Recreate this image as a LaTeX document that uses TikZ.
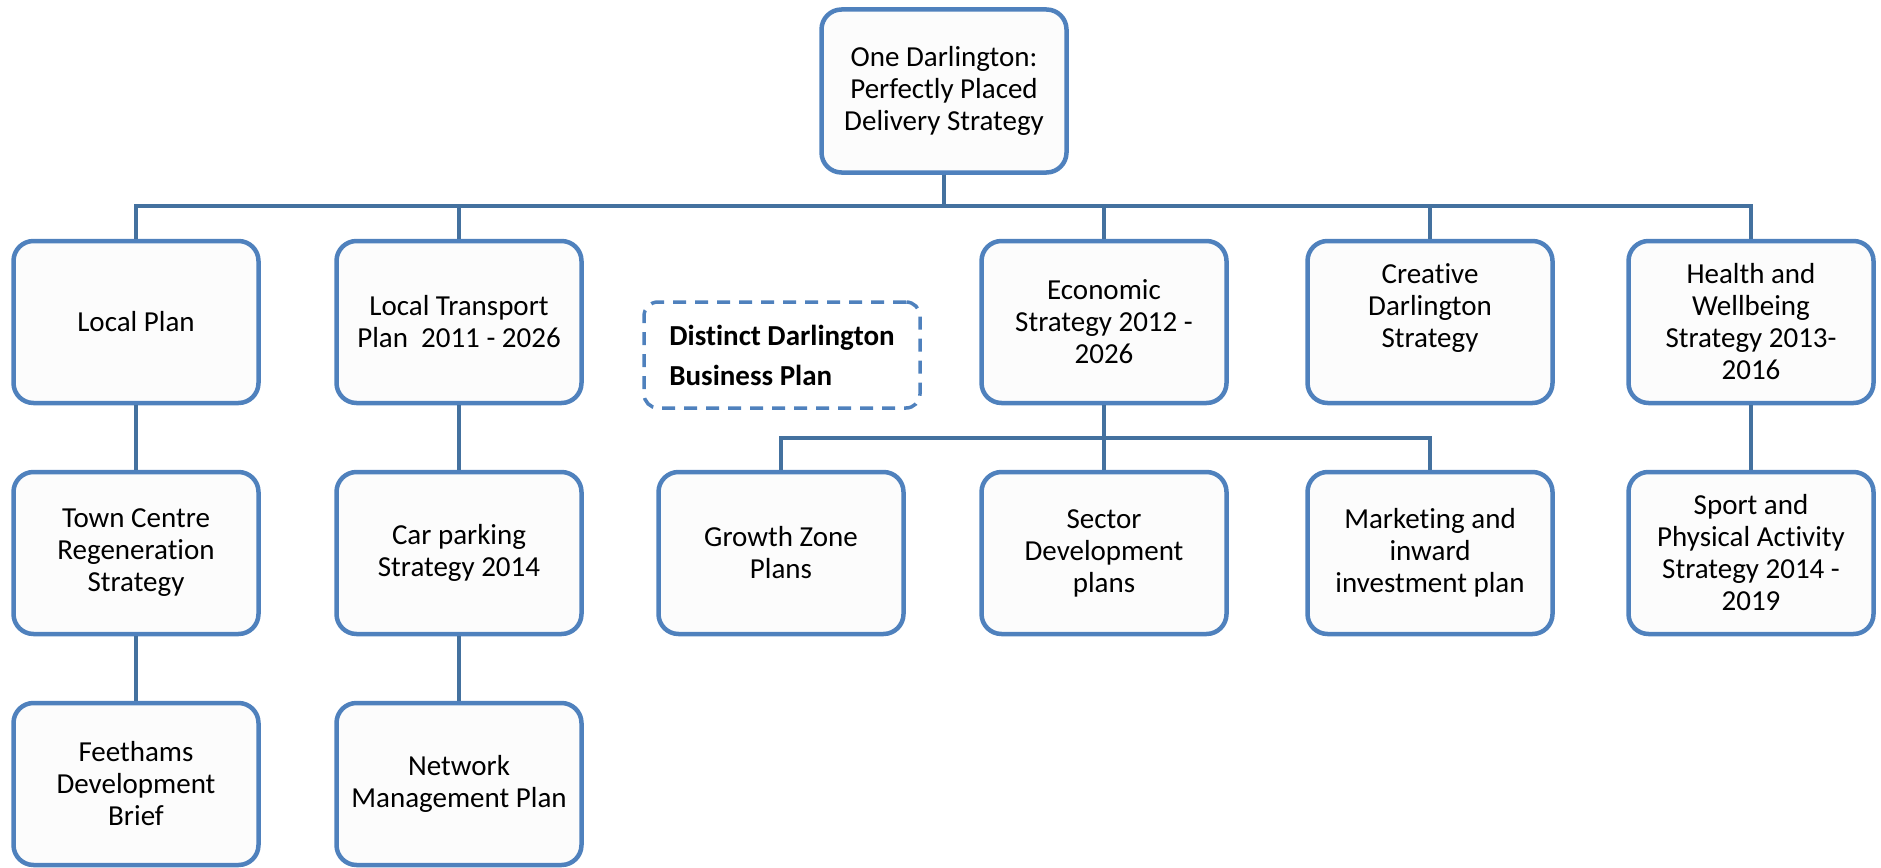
\documentclass[tikz,border=0pt]{standalone}
\usepackage{fontspec}
\setmainfont{Carlito}[Ligatures=NoCommon]
\begin{document}
\begin{tikzpicture}[x=1pt,y=-1pt,
  box/.style={draw=boxblue, line width=4.5pt, fill=boxfill, rounded corners=20pt,
    minimum width=245pt, minimum height=162pt, align=center, inner sep=4pt,
    font=\fontsize{29}{32}\selectfont},
  dashbox/.style={draw=boxblue, line width=3.5pt, dash pattern=on 13pt off 9pt,
    rounded corners=14pt, minimum width=276pt, minimum height=106pt, align=left,
    font=\bfseries\fontsize{29}{40}\selectfont},
  conn/.style={draw=linkblue, line width=4pt}]
\definecolor{boxblue}{HTML}{4F81BD}
\definecolor{linkblue}{HTML}{44719F}
\definecolor{boxfill}{HTML}{FCFCFC}
\useasboundingbox (0,0) rectangle (1881,867);

% top of the hierarchy
\node[box, minimum height=163pt] (top) at (944,91) {One Darlington:\\Perfectly Placed\\Delivery Strategy};

% first tier
\node[box] (lp)  at (136,322)  {Local Plan};
\node[box] (ltp) at (459,322)  {Local Transport\\Plan\ \ 2011 - 2026};
\node[dashbox] (ddb) at (782,355) {Distinct Darlington\\Business Plan};
\node[box] (eco) at (1104,322) {Economic\\Strategy 2012 -\\2026};
\node[box] (cre) at (1430,322) {Creative\\Darlington\\Strategy\\\mbox{}};
\node[box] (hw)  at (1751,322) {Health and\\Wellbeing\\Strategy 2013-\\2016};

% second tier
\node[box] (tc)  at (136,553)  {Town Centre\\Regeneration\\Strategy};
\node[box] (cp)  at (459,553)  {Car parking\\Strategy 2014};
\node[box] (gz)  at (781,553)  {Growth Zone\\Plans};
\node[box] (sd)  at (1104,553) {Sector\\Development\\plans};
\node[box] (mk)  at (1430,553) {Marketing and\\inward\\investment plan};
\node[box] (sp)  at (1751,553) {Sport and\\Physical Activity\\Strategy 2014 -\\2019};

% third tier
\node[box] (fd)  at (136,784)  {Feethams\\Development\\Brief};
\node[box] (nm)  at (459,784)  {Network\\Management Plan};

% bus lines
\coordinate (bus) at (0,206);
\coordinate (ebus) at (0,438);

\foreach \n in {lp,ltp,eco,cre,hw}
  \draw[conn] (top.south) -- (top.south |- bus) -| (\n.north);
\foreach \n in {gz,sd,mk}
  \draw[conn] (eco.south) -- (eco.south |- ebus) -| (\n.north);
\draw[conn] (lp.south) -- (tc.north);
\draw[conn] (tc.south) -- (fd.north);
\draw[conn] (ltp.south) -- (cp.north);
\draw[conn] (cp.south) -- (nm.north);
\draw[conn] (hw.south) -- (sp.north);
\end{tikzpicture}
\end{document}
